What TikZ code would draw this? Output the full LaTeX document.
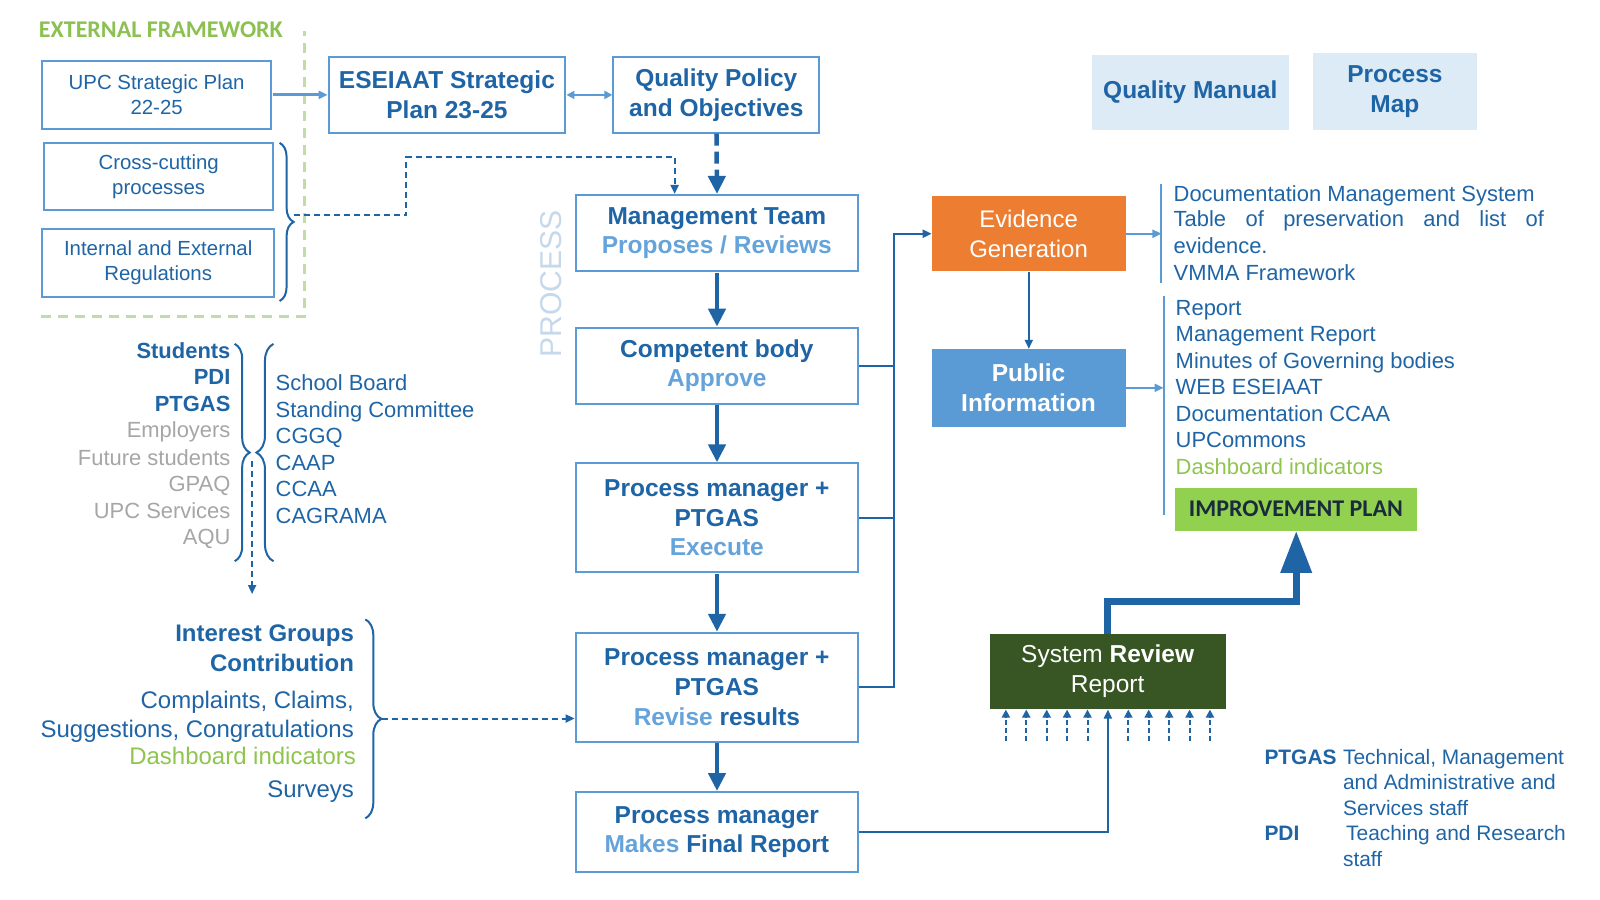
\documentclass[tikz,border=0pt]{standalone}
\usepackage{fontspec}
\setmainfont{Liberation Sans}
\newfontfamily\calib{Carlito}
\usetikzlibrary{arrows.meta,decorations.pathreplacing,calc}
\definecolor{dblue}{HTML}{1F65A6}
\definecolor{bcol}{HTML}{5B9BD5}
\definecolor{lblue}{HTML}{65A3DB}
\definecolor{mblue}{HTML}{5B9BD5}
\definecolor{grayt}{HTML}{A6A6A6}
\definecolor{lfill}{HTML}{DDEBF7}
\definecolor{orng}{HTML}{ED7D31}
\definecolor{pblue}{HTML}{5B9BD5}
\definecolor{igreen}{HTML}{92D050}
\definecolor{sgreen}{HTML}{375623}
\definecolor{tgreen}{HTML}{8FC54F}
\definecolor{egreen}{HTML}{8CC152}
\definecolor{frgreen}{HTML}{C0DCA8}
\definecolor{procc}{HTML}{C5D8EC}
\definecolor{ipdark}{HTML}{1A2B3C}
\newcommand{\myfs}[2]{\fontsize{#1}{#2}\selectfont}
\begin{document}
\begin{tikzpicture}[x=1pt,y=-1pt,scale=1.0204,every node/.append style={transform shape},
 box/.style={draw=bcol,line width=2pt,align=center,inner sep=0pt,text=dblue},
 bbox/.style={box,font=\myfs{24}{29}\bfseries},
 rbox/.style={box,font=\myfs{20}{25}},
 fbox/.style={draw=none,align=center,inner sep=0pt},
 thk/.style={draw=dblue,line width=4.5pt,-{Triangle[width=17pt,length=18pt]}},
 conn/.style={draw=dblue,line width=2pt},
 arr/.style={conn,-{Triangle[width=8pt,length=9pt]}},
 larr/.style={draw=mblue,line width=2pt,-{Triangle[width=8pt,length=9pt]}},
 dsh/.style={arr,dash pattern=on 6pt off 4pt},
 brc/.style={draw=dblue,line width=2pt,decorate},
 txt/.style={inner sep=0pt,font=\myfs{21.5}{26},text=dblue},
]
\useasboundingbox (0,0) rectangle (1568,882);
\fill[white] (0,0) rectangle (1568,882);

% external framework
\node[anchor=west,inner sep=0pt,font=\calib\bfseries\myfs{23.5}{28},text=egreen] (ext) at (38,29) {EXTERNAL FRAMEWORK};
\coordinate (fa) at (40,310);
\coordinate (fb) at (298,310);
\coordinate (fc) at (298,30);
\draw[draw=frgreen,line width=3pt,dash pattern=on 10pt off 7pt] (fa) -- (fb) -- (fc);

\node[rbox,minimum width=225pt,minimum height=66pt] (upc) at (153.5,93) {UPC Strategic Plan\\22-25};
\node[rbox,minimum width=225pt,minimum height=66pt] (cross) at (155.5,173) {Cross-cutting\\processes};
\node[rbox,minimum width=228pt,minimum height=67pt] (reg) at (155,257.5) {Internal and External\\Regulations};
\node[bbox,minimum width=232pt,minimum height=74pt] (ese) at (438,93) {ESEIAAT Strategic\\Plan 23-25};
\node[bbox,minimum width=202pt,minimum height=74pt] (qp) at (702,93) {Quality Policy\\and Objectives};

\node[fbox,fill=lfill,text=dblue,font=\myfs{24}{29}\bfseries,minimum width=193pt,minimum height=73pt] (qm) at (1166.5,90.5) {Quality Manual};
\node[fbox,fill=lfill,text=dblue,font=\myfs{24}{29}\bfseries,minimum width=160pt,minimum height=75pt] (pm) at (1367,89.5) {Process\\Map};

% process chain
\node[rotate=90,inner sep=0pt,font=\myfs{29.5}{30},text=procc] (proc) at (540,278) {PROCESS};
\node[bbox,minimum width=277pt,minimum height=75pt] (mt) at (702.5,228.5) {Management Team\\\textcolor{lblue}{Proposes / Reviews}};
\node[bbox,minimum width=277pt,minimum height=75pt] (cb) at (702.5,358.5) {Competent body\\\textcolor{lblue}{Approve}};
\node[bbox,minimum width=277pt,minimum height=107pt] (ex) at (702.5,507.5) {Process manager +\\PTGAS\\\textcolor{lblue}{Execute}};
\node[bbox,minimum width=277pt,minimum height=107pt] (rv) at (702.5,673.5) {Process manager +\\PTGAS\\\textcolor{lblue}{Revise} results};
\node[bbox,minimum width=277pt,minimum height=79pt] (fr) at (702.5,815.5) {Process manager\\\textcolor{lblue}{Makes} Final Report};

\draw[larr,line width=3pt] (upc.east) -- (ese.west);
\draw[draw=mblue,line width=2pt,{Triangle[width=8pt,length=8pt]}-{Triangle[width=8pt,length=8pt]}] (ese.east) -- (qp.west);
\draw[thk,dash pattern=on 12pt off 6pt] (qp.south) -- (mt.north);
\draw[thk] (mt.south) -- (cb.north);
\draw[thk] (cb.south) -- (ex.north);
\draw[thk] (ex.south) -- (rv.north);
\draw[thk] (rv.south) -- (fr.north);

% brace of framework
\draw[brc,decoration={brace,amplitude=14pt}] (274,140) -- (274,295);
\coordinate (bt) at (288,211);
\coordinate (dk) at (398,154);
\coordinate (dj) at (661,154);
\draw[dsh] (bt) -| (dk) -- (dj) -- (dj |- mt.north);

% right side
\node[fbox,fill=orng,text=white,font=\myfs{23.5}{29},minimum width=190pt,minimum height=74pt] (eg) at (1008,229) {Evidence\\Generation};
\node[fbox,fill=pblue,text=white,font=\myfs{24}{29}\bfseries,minimum width=190pt,minimum height=76pt] (pi) at (1008,380) {Public\\Information};
\node[fbox,fill=igreen,text=ipdark,font=\calib\bfseries\myfs{23.5}{28},minimum width=238pt,minimum height=42pt] (ip) at (1270,499) {IMPROVEMENT PLAN};
\node[fbox,fill=sgreen,text=white,font=\myfs{24}{29},minimum width=231pt,minimum height=74pt] (sr) at (1085.5,658) {System \textbf{Review}\\Report};

\coordinate (bus) at (876,0);
\draw[conn] (cb.east) -- (cb.east -| bus);
\draw[conn] (ex.east) -- (ex.east -| bus);
\draw[arr] (rv.east) -- (rv.east -| bus) |- (eg.west);

\coordinate (b1t) at (1138,180);
\coordinate (b1b) at (1138,277);
\draw[draw=mblue,line width=2pt] (b1t) -- (b1b);
\draw[larr] (eg.east) -- (eg.east -| b1t);
\draw[arr] (eg.south) -- (pi.north);
\coordinate (b2t) at (1140,290);
\coordinate (b2b) at (1140,505);
\draw[draw=mblue,line width=2pt] (b2t) -- (b2b);
\draw[larr] (pi.east) -- (pi.east -| b2t);

\node[txt,anchor=base west] (d1) at (1150,197) {Documentation Management System};
\node[txt,anchor=base west] (d2) at (1150,222) {\makebox[363pt][s]{Table of preservation and list of}};
\node[txt,anchor=base west] (d3) at (1150,248) {evidence.};
\node[txt,anchor=base west] (d4) at (1150,275) {VMMA Framework};

\node[txt,anchor=base west] (p1) at (1152,309) {Report};
\node[txt,anchor=base west] (p2) at (1152,335) {Management Report};
\node[txt,anchor=base west] (p3) at (1152,361) {Minutes of Governing bodies};
\node[txt,anchor=base west] (p4) at (1152,387) {WEB ESEIAAT};
\node[txt,anchor=base west] (p5) at (1152,413) {Documentation CCAA};
\node[txt,anchor=base west] (p6) at (1152,439) {UPCommons};
\node[txt,anchor=base west,text=tgreen] (p7) at (1152,465) {Dashboard indicators};

\draw[arr] (fr.east) -| (sr.south);
\draw[draw=dblue,line width=7pt,-{Triangle[width=30pt,length=42pt]}] (sr.north) -- ++(0,-31) -| (ip.south);
\foreach \dx in {-100,-80,-60,-40,-20,20,40,60,80,100}
  \draw[draw=dblue,line width=2pt,dash pattern=on 5pt off 3pt,-{Triangle[width=8pt,length=8pt]}] ($(sr.south)+(\dx,31)$) -- ($(sr.south)+(\dx,0)$);

% legend
\node[txt,anchor=base west,font=\myfs{20.5}{25}\bfseries] (lgp) at (1239,749) {PTGAS};
\node[txt,anchor=base west,font=\myfs{20.5}{25}] (lg1) at (1316,749) {Technical, Management};
\node[txt,anchor=base west,font=\myfs{20.5}{25}] (lg2) at (1316,774) {and Administrative and};
\node[txt,anchor=base west,font=\myfs{20.5}{25}] (lg3) at (1316,799) {Services staff};
\node[txt,anchor=base west,font=\myfs{20.5}{25}\bfseries] (lgd) at (1239,824) {PDI};
\node[txt,anchor=base west,font=\myfs{20.5}{25}] (lg4) at (1319,824) {Teaching and Research};
\node[txt,anchor=base west,font=\myfs{20.5}{25}] (lg5) at (1316,849) {staff};

% stakeholders
\node[txt,anchor=base east,font=\myfs{21.5}{26}\bfseries] (s1) at (226,351) {Students};
\node[txt,anchor=base east,font=\myfs{21.5}{26}\bfseries] (s2) at (226,377) {PDI};
\node[txt,anchor=base east,font=\myfs{21.5}{26}\bfseries] (s3) at (226,403) {PTGAS};
\node[txt,anchor=base east,font=\myfs{21.5}{26},text=grayt] (s4) at (226,429) {Employers};
\node[txt,anchor=base east,font=\myfs{21.5}{26},text=grayt] (s5) at (226,456) {Future students};
\node[txt,anchor=base east,font=\myfs{21.5}{26},text=grayt] (s6) at (226,482) {GPAQ};
\node[txt,anchor=base east,font=\myfs{21.5}{26},text=grayt] (s7) at (226,508) {UPC Services};
\node[txt,anchor=base east,font=\myfs{21.5}{26},text=grayt] (s8) at (226,534) {AQU};

\node[txt,anchor=base west,font=\myfs{21.5}{26}] (c1) at (270,383) {School Board};
\node[txt,anchor=base west,font=\myfs{21.5}{26}] (c2) at (270,409) {Standing Committee};
\node[txt,anchor=base west,font=\myfs{21.5}{26}] (c3) at (270,435) {CGGQ};
\node[txt,anchor=base west,font=\myfs{21.5}{26}] (c4) at (270,461) {CAAP};
\node[txt,anchor=base west,font=\myfs{21.5}{26}] (c5) at (270,487) {CCAA};
\node[txt,anchor=base west,font=\myfs{21.5}{26}] (c6) at (270,513) {CAGRAMA};

\draw[brc,decoration={brace,amplitude=15pt}] (230,337) -- (230,550);
\draw[brc,decoration={brace,amplitude=17pt}] (268,550) -- (268,337);
\coordinate (sa) at (247,452);
\coordinate (sb) at (247,582);
\draw[dsh] (sa) -- (sb);

% interest groups
\node[txt,anchor=base east,font=\myfs{23.5}{29}\bfseries] (i1) at (347,629) {Interest Groups};
\node[txt,anchor=base east,font=\myfs{23.5}{29}\bfseries] (i2) at (347,658) {Contribution};
\node[txt,anchor=base east,font=\myfs{23.5}{29}] (i3) at (347,694) {Complaints, Claims,};
\node[txt,anchor=base east,font=\myfs{23.5}{29}] (i4) at (347,723) {Suggestions, Congratulations};
\node[txt,anchor=base east,font=\myfs{23.5}{29},text=tgreen] (i5) at (349,749) {Dashboard indicators};
\node[txt,anchor=base east,font=\myfs{23.5}{29}] (i6) at (347,782) {Surveys};
\draw[brc,decoration={brace,amplitude=16pt}] (358,607) -- (358,802);
\coordinate (it) at (374,704);
\draw[dsh] (it) -- (it -| rv.west);
\end{tikzpicture}
\end{document}
